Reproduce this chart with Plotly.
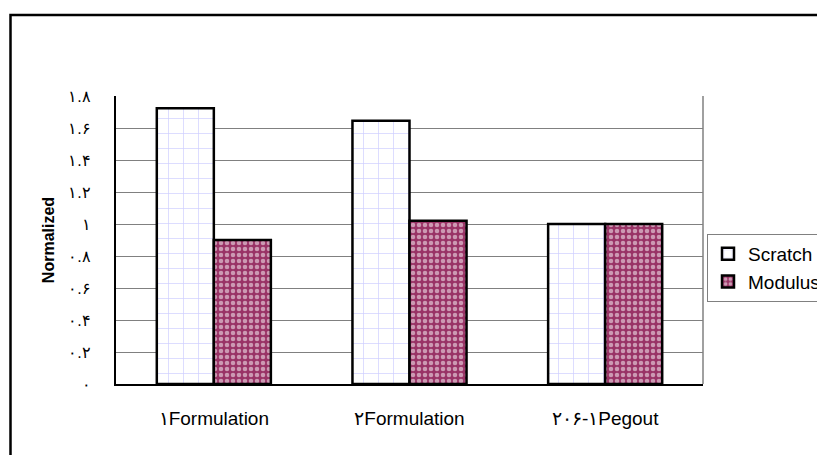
import plotly.graph_objects as go

categories = ["۱Formulation", "۲Formulation", "۲۰۶-۱Pegout"]
scratch = [1.723, 1.646, 1.0]
modulus = [0.9, 1.02, 1.0]
tick_vals = [0, 0.2, 0.4, 0.6, 0.8, 1.0, 1.2, 1.4, 1.6, 1.8]
tick_text = ["۰", "۰.۲", "۰.۴", "۰.۶", "۰.۸", "۱", "۱.۲", "۱.۴", "۱.۶", "۱.۸"]

# page has an 8px body margin, so the figure is placed at (8, 8)
W, H = 817, 447
L, T = 108, 88
PW, PH = 587, 288
R = W - L - PW
B = H - T - PH

fig = go.Figure()
fig.add_trace(go.Bar(
    x=categories, y=scratch, name="Scratch",
    marker=dict(color="white", line=dict(color="black", width=2.5),
                pattern=dict(shape="+", fgcolor="#9c9cff", bgcolor="white",
                             size=15, solidity=0.09)),
))
fig.add_trace(go.Bar(
    x=categories, y=modulus, name="Modulus",
    marker=dict(color="#993366", line=dict(color="black", width=2.5),
                pattern=dict(shape=".", fgcolor="white", bgcolor="#993366",
                             size=6, solidity=0.45)),
))

# outer chart-area border (left/top visible, right/bottom beyond the window)
fig.add_shape(type="rect", xref="paper", yref="paper",
              x0=(2.5 - L) / PW, x1=(W + 10 - L) / PW,
              y0=(T + PH - H - 10) / PH, y1=(T + PH - 7) / PH,
              line=dict(color="black", width=2.5), fillcolor="rgba(0,0,0,0)", layer="above")
# right edge of plot area (grey)
fig.add_shape(type="line", xref="paper", yref="paper", x0=1, x1=1, y0=0, y1=1,
              line=dict(color="#808080", width=1.5))

fig.update_layout(
    width=W, height=H,
    margin=dict(l=L, r=R, t=T, b=B, autoexpand=False),
    paper_bgcolor="white", plot_bgcolor="white",
    barmode="group", bargap=0.417, bargroupgap=0,
    font=dict(family="Liberation Sans, Arial, sans-serif", size=16, color="black"),
    showlegend=True,
    legend=dict(x=(699 - L) / PW, y=(T + PH - 226) / PH, xanchor="left", yanchor="top",
                bordercolor="#808080", borderwidth=1, bgcolor="white",
                font=dict(size=19), tracegroupgap=0, itemwidth=30),
    xaxis=dict(showline=True, linecolor="black", linewidth=2, ticks="",
               tickfont=dict(size=19), showgrid=False, ticklabelstandoff=16),
    yaxis=dict(range=[0, 1.8], tickvals=tick_vals, ticktext=tick_text,
               showline=True, linecolor="black", linewidth=2,
               gridcolor="#808080", gridwidth=1.2, ticks="",
               tickfont=dict(size=16), zeroline=False, ticklabelstandoff=20,
               title=dict(text="<b>Normalized</b>", font=dict(size=16), standoff=10)),
)

fig.write_html("out.html")
